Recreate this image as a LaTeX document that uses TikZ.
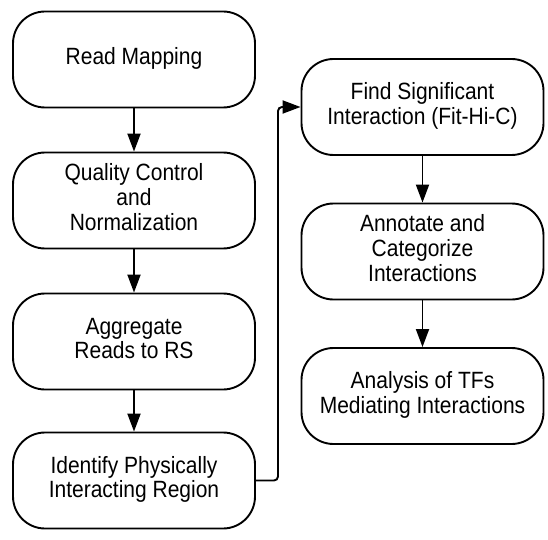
\documentclass[tikz,border=0pt]{standalone}
\usepackage{fontspec}
\usepackage{graphicx}
\setmainfont{Liberation Sans}
\usetikzlibrary{arrows.meta}
\newcommand{\boxtext}[1]{\scalebox{1}[1.12]{\fontsize{21}{22.3}\selectfont\begin{tabular}{@{}c@{}}#1\end{tabular}}}
\begin{document}
\begin{tikzpicture}[x=1pt,y=1pt,
  procbox/.style={draw=black,line width=1.9pt,rounded corners=32pt,minimum width=242pt,minimum height=96pt,align=center,inner sep=0pt},
  flow/.style={line width=1.9pt,-{Triangle[length=18pt,width=13pt]}}]
\useasboundingbox (0,0) rectangle (548,539);
\node[procbox] (a) at (134,{539-59.5}) {\boxtext{Read Mapping}};
\node[procbox] (b) at (134,{539-200.5}) {\boxtext{Quality Control\\and\\Normalization}};
\node[procbox] (c) at (134,{539-341.5}) {\boxtext{Aggregate\\Reads to RS}};
\node[procbox] (d) at (134,{539-480.5}) {\boxtext{Identify Physically\\Interacting Region}};
\node[procbox] (e) at (422.5,{539-107}) {\boxtext{Find Significant\\Interaction (Fit-Hi-C)}};
\node[procbox] (f) at (422.5,{539-251.5}) {\boxtext{Annotate and\\Categorize\\Interactions}};
\node[procbox] (g) at (422.5,{539-396}) {\boxtext{Analysis of TFs\\Mediating Interactions}};
\coordinate (t1) at (278,{539-480.5});
\coordinate (t2) at (278,{539-107});
\draw[flow] (a) -- (b);
\draw[flow] (b) -- (c);
\draw[flow] (c) -- (d);
\draw[flow,rounded corners=4pt] (d.east) -- (t1) -- (t2) -- (e.west);
\draw[flow] (e) -- (f);
\draw[flow] (f) -- (g);
\end{tikzpicture}
\end{document}
